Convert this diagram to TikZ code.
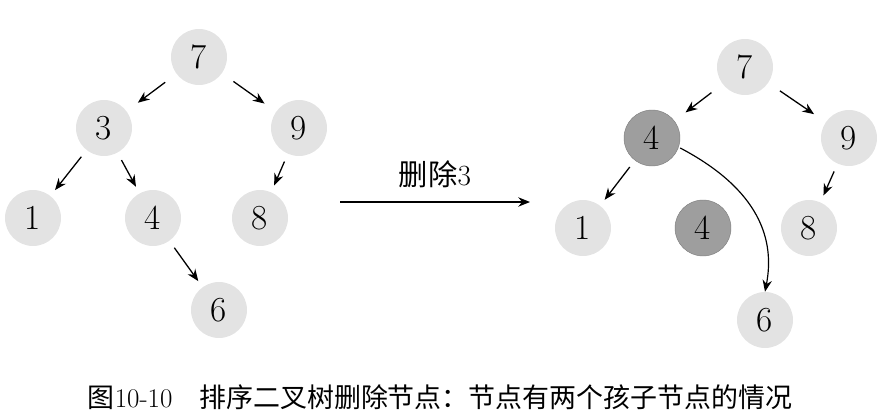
\documentclass[tikz,border=0pt]{standalone}
\usepackage{fontspec}
\newfontfamily\cjk{Noto Sans CJK SC}
\usetikzlibrary{arrows.meta}
\begin{document}
\begin{tikzpicture}[x=0.03cm,y=-0.03cm,>={Stealth[length=10pt,width=8pt]},
    tree node/.style={circle,fill=black!11,minimum size=56*0.03cm,inner sep=0pt,font=\fontsize{30}{34}\selectfont},
    moved node/.style={tree node,fill=black!38,draw=black!50},
    link/.style={->,line width=1.1pt,shorten <=0.42cm,shorten >=0.42cm},
    short link/.style={link,shorten <=0.25cm,shorten >=0.22cm}]
  \useasboundingbox (0,0) rectangle (885,418);
  % left tree
  \node[tree node] (a7) at (199,57) {7};
  \node[tree node] (a3) at (104,128) {3};
  \node[tree node] (a9) at (299,128) {9};
  \node[tree node] (a1) at (33,218) {1};
  \node[tree node] (a4) at (153,218) {4};
  \node[tree node] (a8) at (260,218) {8};
  \node[tree node] (a6) at (219,310) {6};
  \draw[link] (a7) -- (a3);
  \draw[link] (a7) -- (a9);
  \draw[short link] (a3) -- (a1);
  \draw[short link] (a3) -- (a4);
  \draw[short link] (a9) -- (a8);
  \draw[short link] (a4) -- (a6);
  % middle arrow
  \coordinate (m1) at (340,202);
  \coordinate (m2) at (530,202);
  \draw[->,line width=1.1pt] (m1) -- (m2) node[midway,above=8pt,font=\fontsize{25}{30}\selectfont] {{\cjk 删除}3};
  % right tree
  \node[tree node] (b7) at (745,67) {7};
  \node[moved node] (b4) at (652,138) {4};
  \node[tree node] (b9) at (849,138) {9};
  \node[tree node] (b1) at (583,228) {1};
  \node[moved node] (b4old) at (703,228) {4};
  \node[tree node] (b8) at (809,228) {8};
  \node[tree node] (b6) at (765,320) {6};
  \draw[link] (b7) -- (b4);
  \draw[link] (b7) -- (b9);
  \draw[short link] (b4) -- (b1);
  \draw[short link] (b9) -- (b8);
  \draw[->,line width=1pt] (b4.east) ++(0,10) .. controls (760,190) and (775,240) .. (b6.north);
  % caption
  \node[font=\fontsize{23}{27}\selectfont] (cap) at (440,397) {{\cjk 图}10-10\quad{\cjk 排序二叉树删除节点：节点有两个孩子节点的情况}};
\end{tikzpicture}
\end{document}
